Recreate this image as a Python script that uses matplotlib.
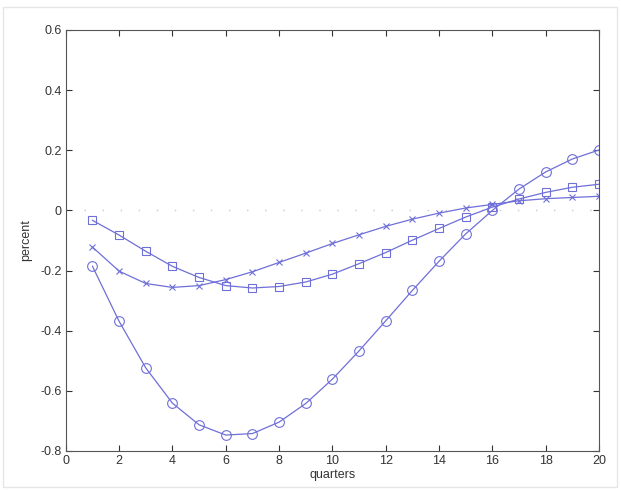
import numpy as np
import matplotlib.pyplot as plt
from matplotlib.patches import Rectangle

# quarters after the shock
quarters = list(range(1, 21))

# responses (percent)
circle_vals = [-0.186, -0.369, -0.524, -0.641, -0.713, -0.747, -0.742, -0.704, -0.642, -0.561,
               -0.467, -0.367, -0.266, -0.169, -0.078, 0.000, 0.071, 0.128, 0.171, 0.201]
square_vals = [-0.033, -0.082, -0.136, -0.186, -0.223, -0.250, -0.258, -0.253, -0.238, -0.212,
               -0.177, -0.140, -0.099, -0.060, -0.022, 0.011, 0.038, 0.060, 0.077, 0.087]
cross_vals = [-0.122, -0.202, -0.243, -0.256, -0.250, -0.230, -0.204, -0.173, -0.142, -0.110,
              -0.081, -0.053, -0.029, -0.009, 0.008, 0.020, 0.032, 0.039, 0.043, 0.047]

x_ticks = [0, 2, 4, 6, 8, 10, 12, 14, 16, 18, 20]
y_ticks = [-0.8, -0.6, -0.4, -0.2, 0, 0.2, 0.4, 0.6]
y_labels = ['-0.8', '-0.6', '-0.4', '-0.2', '0', '0.2', '0.4', '0.6']

plt.rcParams['font.family'] = ['Liberation Sans', 'DejaVu Sans']

fig = plt.figure(figsize=(6.21, 4.9), dpi=100)
fig.patches.append(Rectangle((0.005, 0.006), 0.989, 0.98, transform=fig.transFigure,
                             fill=False, edgecolor='#e6e6e6', linewidth=1))
ax = fig.add_axes([0.106, 0.0796, 0.8586, 0.8592])

line_col = '#6f6fd8'
ax.axhline(0, color='#c8c8c8', linestyle=(0, (1, 12)), linewidth=1, zorder=0)
ax.plot(quarters, circle_vals, color=line_col, lw=0.9, marker='o', ms=7,
        mfc='none', mec=line_col, mew=0.8)
ax.plot(quarters, square_vals, color=line_col, lw=0.9, marker='s', ms=6,
        mfc='none', mec=line_col, mew=0.8)
ax.plot(quarters, cross_vals, color=line_col, lw=0.9, marker='x', ms=5,
        mec=line_col, mew=0.8)

ax.set_xlim(0, 20)
ax.set_ylim(-0.8, 0.6)
ax.set_xticks(x_ticks)
ax.set_yticks(y_ticks)
ax.set_yticklabels(y_labels)
ax.tick_params(direction='in', top=True, right=True, length=4, width=0.8,
               labelsize=9, colors='#333333', pad=3)
for s in ax.spines.values():
    s.set_color('#555555')
    s.set_linewidth(0.8)

ax.set_xlabel('quarters', fontsize=9, color='#333333', labelpad=1)
ax.set_ylabel('percent', fontsize=9, color='#333333', labelpad=6)

fig.savefig('out.png', dpi=100)
